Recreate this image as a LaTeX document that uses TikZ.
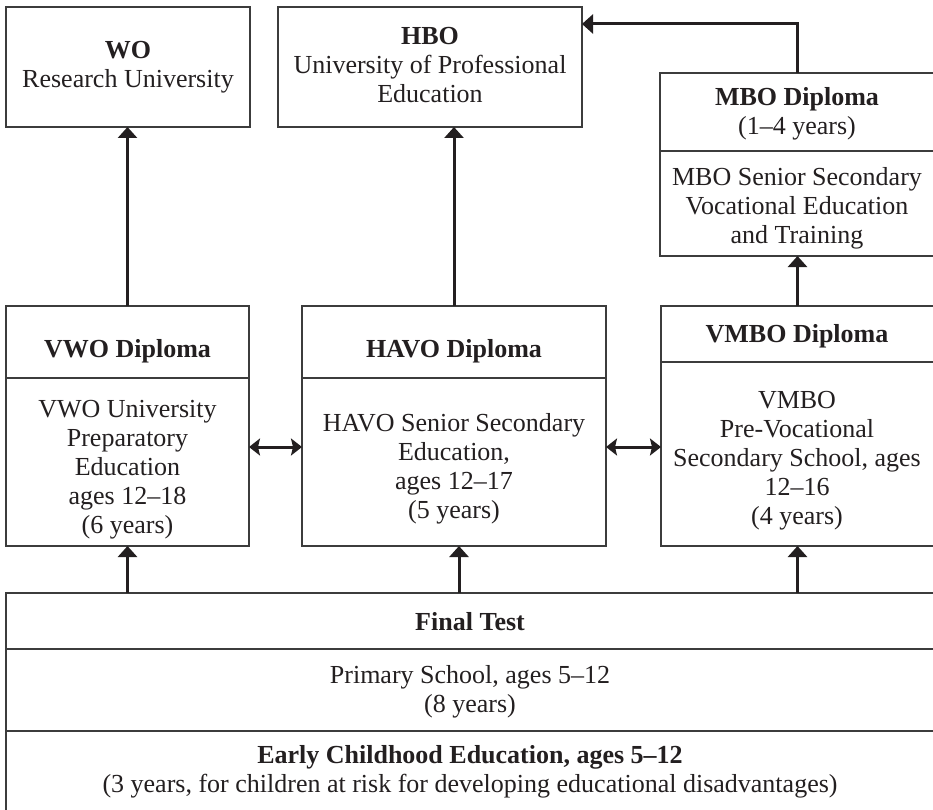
\documentclass[tikz,border=0pt]{standalone}
\usepackage{fontspec}
\setmainfont{Liberation Serif}
\usetikzlibrary{arrows.meta}
\definecolor{ink}{HTML}{231F20}
\definecolor{frame}{HTML}{3C3C3C}
\tikzset{
  box/.style={draw=frame, line width=1.2pt, inner sep=0pt, outer sep=0pt, anchor=north west},
  txt/.style={font=\fontsize{26}{29}\selectfont, align=center, inner sep=0pt, text=ink},
  arr/.style={draw=ink, line width=3pt, -{Triangle[width=19pt,length=11pt]}},
  dbl/.style={draw=ink, line width=3pt, {Stealth[width=17pt,length=11pt,inset=2pt]}-{Stealth[width=17pt,length=11pt,inset=2pt]}},
}
\begin{document}
\begin{tikzpicture}[x=1pt,y=-1pt]
\fill[white] (0,0) rectangle (933,810);
\useasboundingbox (0,0) rectangle (933,810);
% boxes
\node[box, minimum width=244pt, minimum height=120pt] (wo) at (6,7) {};
\node[box, minimum width=304pt, minimum height=120pt] (hbo) at (278,7) {};
\node[box, minimum width=274pt, minimum height=78pt] (mboH) at (660,73) {};
\node[box, minimum width=274pt, minimum height=105pt] (mboB) at (660,151) {};
\node[box, minimum width=243pt, minimum height=72pt] (vwoH) at (6,306) {};
\node[box, minimum width=243pt, minimum height=168pt] (vwoB) at (6,378) {};
\node[box, minimum width=304pt, minimum height=72pt] (havoH) at (302,306) {};
\node[box, minimum width=304pt, minimum height=168pt] (havoB) at (302,378) {};
\node[box, minimum width=273pt, minimum height=56pt] (vmboH) at (661,306) {};
\node[box, minimum width=273pt, minimum height=184pt] (vmboB) at (661,362) {};
\node[box, minimum width=928pt, minimum height=56pt] (fin) at (6,593) {};
\node[box, minimum width=928pt, minimum height=82pt] (pri) at (6,649) {};
\node[box, minimum width=928pt, minimum height=99pt] (ear) at (6,731) {};
% texts
\node[txt] (woT) at (128,67) {\textbf{WO}\\Research University};
\node[txt] (hboT) at (430,65) {\textbf{HBO}\\University of Professional\\Education};
\node[txt] (mboHT) at (797,114) {\textbf{MBO Diploma}\\(1–4 years)};
\node[txt] (mboBT) at (797,208) {MBO Senior Secondary\\Vocational Education\\and Training};
\node[txt] (vwoHT) at (127.5,351) {\textbf{VWO Diploma}};
\node[txt] (vwoBT) at (127.5,470) {VWO University\\Preparatory\\Education\\ages 12–18\\(6 years)};
\node[txt] (havoHT) at (454,351) {\textbf{HAVO Diploma}};
\node[txt] (havoBT) at (454,469) {HAVO Senior Secondary\\Education,\\ages 12–17\\(5 years)};
\node[txt] (vmboHT) at (797,336) {\textbf{VMBO Diploma}};
\node[txt] (vmboBT) at (797,461) {VMBO\\Pre-Vocational\\Secondary School, ages\\12–16\\(4 years)};
\node[txt] (finT) at (470,622) {\textbf{Final Test}};
\node[txt] (priT) at (470,692) {Primary School, ages 5–12\\(8 years)};
\node[txt] (earT) at (470,772) {\textbf{Early Childhood Education, ages 5–12}\\(3 years, for children at risk for developing educational disadvantages)};
% connectors
\draw[arr] (vwoH.north) -- (vwoH.north |- wo.south);
\draw[arr] (havoH.north) -- (havoH.north |- hbo.south);
\draw[arr] (vmboH.north) -- (vmboH.north |- mboB.south);
\draw[arr] (mboH.north) |- ([yshift=-17pt]hbo.north east);
\coordinate (m1) at ([yshift=15pt]vwoB.east);
\coordinate (m2) at ([yshift=15pt]havoB.east);
\draw[dbl] (m1) -- (m1 -| havoB.west);
\draw[dbl] (m2) -- (m2 -| vmboB.west);
\coordinate (b1) at (vwoB.south |- fin.north);
\coordinate (b2) at ([xshift=5pt]havoB.south |- fin.north);
\coordinate (b3) at (vmboB.south |- fin.north);
\draw[arr] (b1) -- (b1 |- vwoB.south);
\draw[arr] (b2) -- (b2 |- havoB.south);
\draw[arr] (b3) -- (b3 |- vmboB.south);
\end{tikzpicture}
\end{document}
